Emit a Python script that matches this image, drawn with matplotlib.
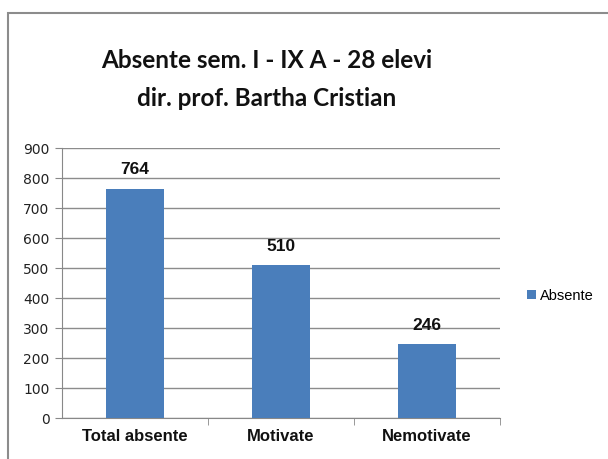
import matplotlib.pyplot as plt
from matplotlib.patches import Rectangle

categories = ['Total absente', 'Motivate', 'Nemotivate']
values = [764, 510, 246]
series_name = 'Absente'
yticks = [0, 100, 200, 300, 400, 500, 600, 700, 800, 900]

fig = plt.figure(figsize=(6.08, 4.59), dpi=100)
fig.patch.set_facecolor('white')

# outer chart border
fig.add_artist(Rectangle((8 / 608, -0.02), 1.0, 1 - 13 / 459 + 0.02,
                         transform=fig.transFigure, fill=False,
                         edgecolor='#8c8c8c', linewidth=1.5))

ax = fig.add_axes([62 / 608, 1 - 418 / 459, 438 / 608, 270 / 459])
x = range(len(categories))
bars = ax.bar(x, values, width=0.4, color='#4a7ebb', label=series_name, zorder=3)

ax.set_xlim(-0.5, 2.5)
ax.set_ylim(0, 900)
ax.set_yticks(yticks)
ax.set_yticklabels([str(t) for t in yticks], fontfamily='DejaVu Sans', fontsize=10,
                   color='#222222')
ax.set_xticks(list(x))
ax.set_xticklabels(categories, fontfamily='Liberation Sans', fontweight='bold',
                   fontsize=12, color='#111111')
ax.tick_params(axis='x', length=0, pad=8)
ax.tick_params(axis='y', length=5, color='#888888', pad=4)
ax.set_xticks([0.5, 1.5, 2.5], minor=True)
ax.tick_params(axis='x', which='minor', length=5, color='#888888')

ax.grid(axis='y', color='#8c8c8c', linewidth=1, zorder=0)
for s in ['top', 'right']:
    ax.spines[s].set_visible(False)
ax.spines['left'].set_color('#888888')
ax.spines['bottom'].set_color('#888888')

for b, v in zip(bars, values):
    ax.text(b.get_x() + b.get_width() / 2, v + 38, str(v), ha='center', va='bottom',
            fontfamily='Liberation Sans', fontweight='bold', fontsize=12.5,
            color='#111111')

fig.text(267 / 608, 1 - 60 / 459, 'Absente sem. I - IX A - 28 elevi', ha='center',
         va='center', fontfamily='Lato', fontweight='bold', fontsize=17.5,
         color='#111111')
fig.text(267 / 608, 1 - 98 / 459, 'dir. prof. Bartha Cristian', ha='center',
         va='center', fontfamily='Lato', fontweight='bold', fontsize=17.5,
         color='#111111')

fig.legend(handles=[bars], labels=[series_name], loc='center left',
           bbox_to_anchor=(514 / 608, 1 - 296 / 459), frameon=False,
           handlelength=0.6, handleheight=0.6, handletextpad=0.3,
           prop={'family': 'Liberation Sans', 'size': 10.5})

fig.savefig('out.png', dpi=100)
